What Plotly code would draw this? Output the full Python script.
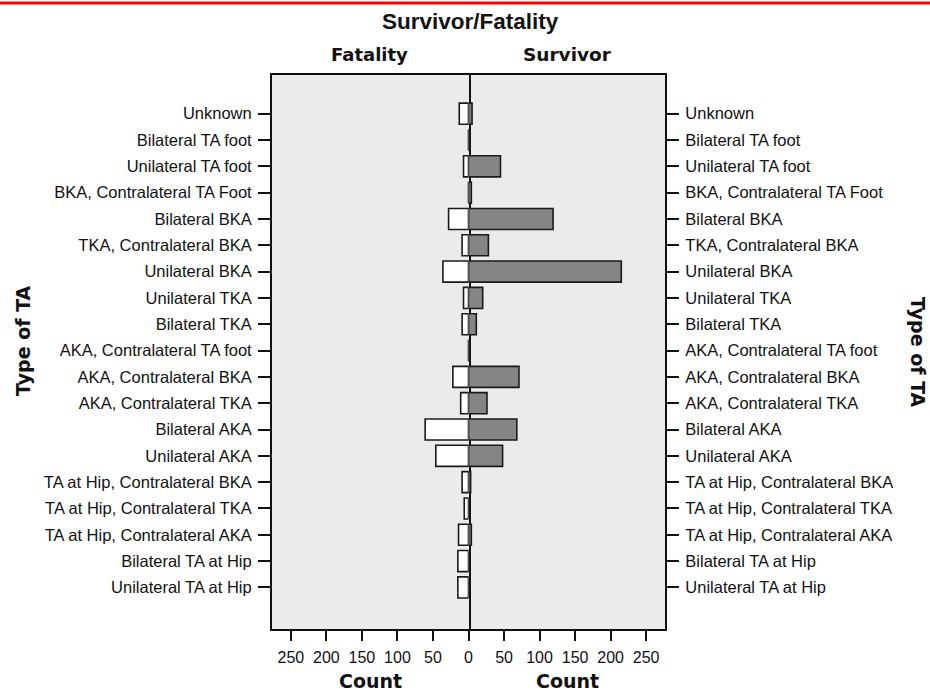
import plotly.graph_objects as go

# Categories from bottom to top
categories = [
    "Unilateral TA at Hip",
    "Bilateral TA at Hip",
    "TA at Hip, Contralateral AKA",
    "TA at Hip, Contralateral TKA",
    "TA at Hip, Contralateral BKA",
    "Unilateral AKA",
    "Bilateral AKA",
    "AKA, Contralateral TKA",
    "AKA, Contralateral BKA",
    "AKA, Contralateral TA foot",
    "Bilateral TKA",
    "Unilateral TKA",
    "Unilateral BKA",
    "TKA, Contralateral BKA",
    "Bilateral BKA",
    "BKA, Contralateral TA Foot",
    "Unilateral TA foot",
    "Bilateral TA foot",
    "Unknown",
]
fatality = [15, 15, 14, 6, 9, 46, 61, 11, 22, 0, 9, 7, 36, 9, 28, 0, 7, 0, 13]
survivor = [0, 0, 4, 0, 3, 48, 68, 26, 71, 2, 11, 20, 215, 28, 119, 4, 45, 2, 5]
count_ticks = [0, 50, 100, 150, 200, 250]

W, H = 930, 693
L, R, T, B = 272, 265, 75, 64
PW, PH = W - L - R, H - T - B


def px(x):
    return (x - L) / PW


def py(y):
    return (H - B - y) / PH


fig = go.Figure()
bar_line = dict(color="#1a1a1a", width=1.6)
fig.add_trace(go.Bar(y=categories, x=fatality, orientation="h", width=0.8,
                     marker=dict(color="white", line=bar_line),
                     xaxis="x", yaxis="y", showlegend=False))
fig.add_trace(go.Bar(y=categories, x=survivor, orientation="h", width=0.8,
                     marker=dict(color="#858585", line=bar_line),
                     xaxis="x2", yaxis="y2", showlegend=False))

xmax = 276.5
tickfont = dict(family="Liberation Sans, Arial, sans-serif", size=16, color="#111")
catfont = dict(family="Liberation Sans, Arial, sans-serif", size=16.5, color="#111")
common_x = dict(showline=True, linecolor="#111", linewidth=2, mirror=True,
                ticks="outside", ticklen=10, tickwidth=2, tickcolor="#111",
                tickvals=count_ticks, ticklabelstandoff=3,
                showgrid=False, zeroline=False, tickfont=tickfont, fixedrange=True)
common_y = dict(type="category", categoryorder="array", categoryarray=categories,
                range=[-1.58, 19.47], showline=True, linecolor="#111", linewidth=2,
                ticks="outside", ticklen=12, tickwidth=1.5,
                tickcolor="#111", showgrid=False, zeroline=False, tickfont=catfont,
                ticklabelstandoff=3, fixedrange=True)

left_text = [str(v) for v in count_ticks]
right_text = [""] + [str(v) for v in count_ticks[1:]]

fig.update_layout(
    width=W, height=H,
    margin=dict(l=L, r=R, t=T, b=B, pad=0),
    paper_bgcolor="white",
    plot_bgcolor="#ebebeb",
    barmode="overlay",
    xaxis=dict(domain=[0, 0.5], range=[xmax, 0], anchor="y",
               ticktext=left_text, **common_x),
    xaxis2=dict(domain=[0.5, 1], range=[0, xmax], anchor="y2",
                ticktext=right_text, **common_x),
    yaxis=dict(anchor="x", side="left", mirror=True, **common_y),
    yaxis2=dict(anchor="x2", side="right", matches="y", mirror=False, **common_y),
)

bold_wide = "DejaVu Sans, Verdana, sans-serif"
bold_arial = "Liberation Sans, Arial, sans-serif"
annots = [
    ("<b>Survivor/Fatality</b>", 470, 22, bold_arial, 22.5, 0),
    ("<b>Fatality</b>", 369, 55, bold_wide, 18, 0),
    ("<b>Survivor</b>", 567, 55, bold_wide, 18.5, 0),
    ("<b>Count</b>", 370, 681, bold_wide, 19, 0),
    ("<b>Count</b>", 567, 681, bold_wide, 19, 0),
    ("<b>Type of TA</b>", 23, 341, bold_wide, 19, -90),
    ("<b>Type of TA</b>", 918, 352, bold_wide, 19, 90),
]
for text, x, y, fam, size, ang in annots:
    fig.add_annotation(text=text, x=px(x), y=py(y), xref="paper", yref="paper",
                       xanchor="center", yanchor="middle", showarrow=False,
                       textangle=ang, font=dict(family=fam, size=size, color="#111"))

# red rule across the top of the page
fig.add_shape(type="line", xref="paper", yref="paper",
              x0=px(0), x1=px(W), y0=py(3), y1=py(3),
              line=dict(color="#ff0000", width=3))

fig.write_html(
    "out.html",
    config={"displayModeBar": False},
    post_script="document.body.style.margin='0';document.body.style.padding='0';"
                "document.body.style.overflow='hidden';",
)
